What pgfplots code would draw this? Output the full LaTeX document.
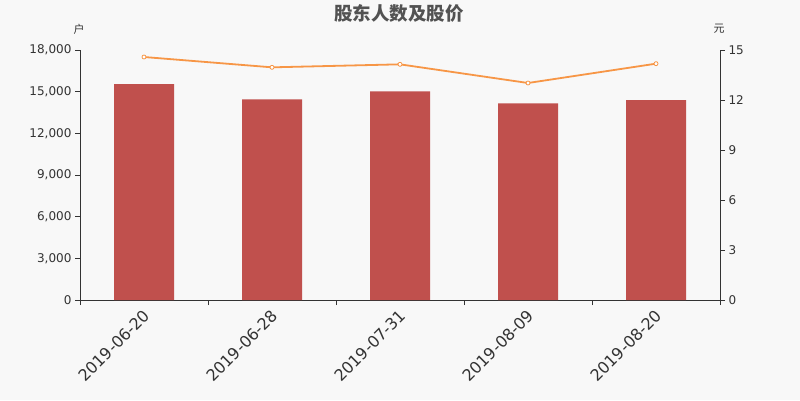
\documentclass[border=0pt]{standalone}
\usepackage{pgfplots}
\pgfplotsset{compat=1.18}
\usepackage{fontspec}
\setmainfont{DejaVu Sans}
\newfontfamily\cjk{Noto Sans CJK SC}
\definecolor{bg}{HTML}{F8F8F8}
\definecolor{barc}{HTML}{C0504D}
\definecolor{linec}{HTML}{F79646}
\definecolor{txt}{HTML}{333333}
\begin{document}
\begin{tikzpicture}[x=1pt,y=1pt]
\fill[bg] (0,0) rectangle (800,400);
\path[use as bounding box] (0,0) rectangle (800,400);
\node[font=\cjk\bfseries\fontsize{18.5}{20}\selectfont, text=txt!85] at (399,387) {股东人数及股价};
\node[font=\cjk\fontsize{11}{13}\selectfont, text=txt] at (79,371) {户};
\node[font=\cjk\fontsize{11}{13}\selectfont, text=txt] at (719,371) {元};
\begin{axis}[
  at={(80pt,100pt)}, anchor=south west,
  scale only axis, width=640pt, height=250pt,
  xmin=-0.5, xmax=4.5, ymin=0, ymax=18000,
  axis y line*=left, axis x line*=bottom,
  axis line style={txt, line width=0.8pt, -},
  xtick={-0.5,0.5,1.5,2.5,3.5,4.5},
  xticklabels={},
  xtick style={txt, line width=0.8pt},
  extra x ticks={0,1,2,3,4},
  extra x tick labels={2019-06-20,2019-06-28,2019-07-31,2019-08-09,2019-08-20},
  extra x tick style={tick style={draw=none}},
  x tick label style={rotate=45, anchor=north east, font=\fontsize{16}{18}\selectfont, text=txt, xshift=0pt, yshift=2pt},
  scaled y ticks=false,
  ytick={0,3000,6000,9000,12000,15000,18000},
  yticklabels={0,{3,000},{6,000},{9,000},{12,000},{15,000},{18,000}},
  y tick label style={font=\fontsize{12}{14}\selectfont, text=txt},
  ytick style={txt, line width=0.8pt},
  major tick length=5pt,
  tick align=outside,
  /pgf/number format/assume math mode=true,
  clip=false,
]
\addplot[ybar, bar width=60pt, fill=barc, draw=none] coordinates {(0,15550) (1,14450) (2,15020) (3,14160) (4,14400)};
\end{axis}
\begin{axis}[
  at={(80pt,100pt)}, anchor=south west,
  scale only axis, width=640pt, height=250pt,
  xmin=-0.5, xmax=4.5, ymin=0, ymax=15,
  axis y line*=right, axis x line=none,
  axis line style={txt, line width=0.8pt, -},
  ytick={0,3,6,9,12,15},
  y tick label style={font=\fontsize{12}{14}\selectfont, text=txt},
  ytick style={txt, line width=0.8pt},
  major tick length=5pt,
  tick align=outside,
  /pgf/number format/assume math mode=true,
  clip=false,
]
\addplot[linec, line width=1.8pt, mark=*, mark size=2pt, mark options={fill=white, draw=linec, line width=0.8pt}] coordinates {(0,14.58) (1,13.96) (2,14.14) (3,13.02) (4,14.18)};
\end{axis}
\end{tikzpicture}
\end{document}
